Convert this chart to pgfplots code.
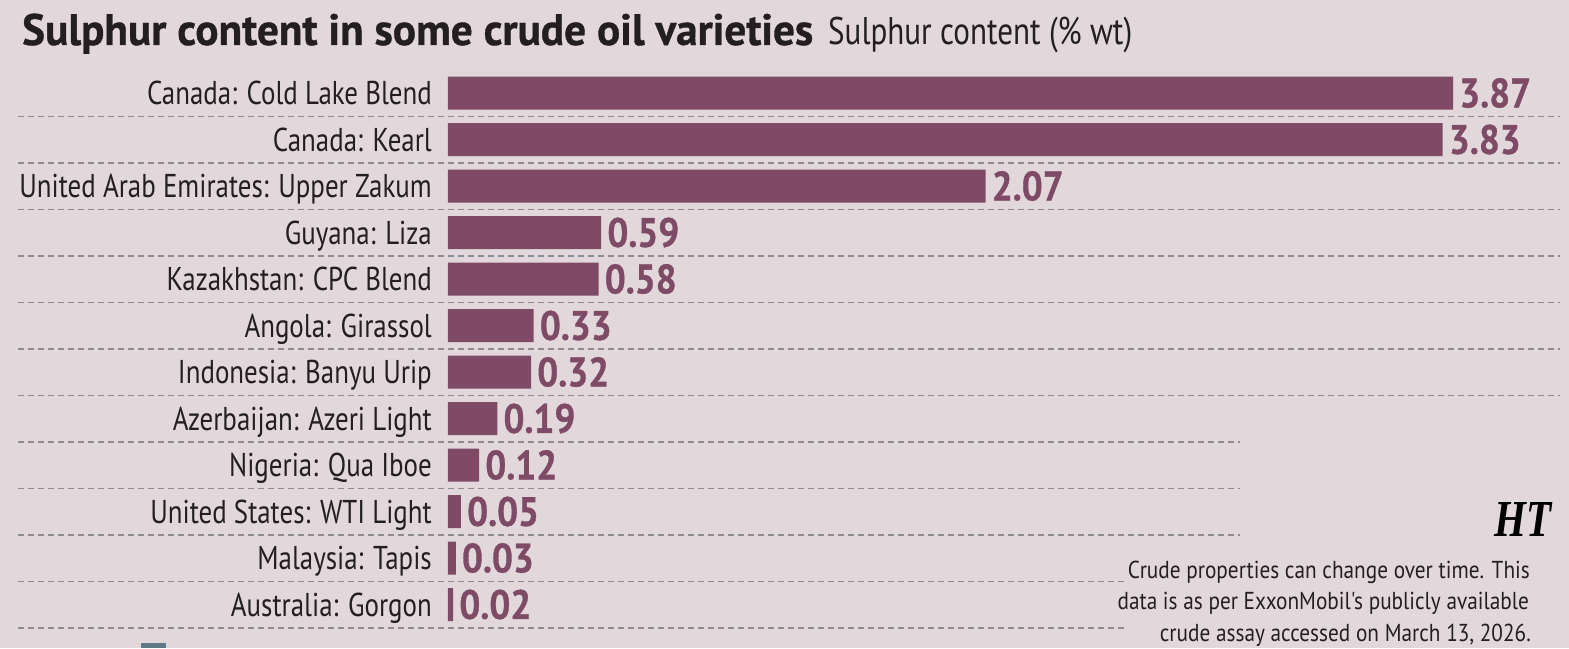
\documentclass[border=0pt]{standalone}
\usepackage{fontspec}
\usepackage{pgfplots}
\pgfplotsset{compat=1.18}
\usepackage{graphicx}
\setmainfont{PT Sans}
\newfontfamily\condreg{PT Sans}[FakeStretch=0.816]
\newfontfamily\condbold{PT Sans}[FakeStretch=0.9, BoldFeatures={FakeBold=0.8}]
\newfontfamily\titlefont{PT Sans}[BoldFeatures={FakeBold=0.8}]
\newfontfamily\notefont{PT Sans}[FakeStretch=0.868]
\newfontfamily\logofont{Liberation Serif}
\definecolor{bgc}{RGB}{226,216,219}
\definecolor{barc}{RGB}{126,74,102}
\definecolor{txtc}{RGB}{35,31,32}
\definecolor{gridc}{RGB}{140,140,146}
\definecolor{sqc}{RGB}{94,122,134}
\begin{document}
\begin{tikzpicture}[x=1pt,y=1pt]
\fill[bgc] (0,0) rectangle (1569,648);
\begin{axis}[
  at={(18pt,0pt)}, anchor=south west,
  scale only axis, width=1542pt, height=578.25pt,
  xmin=-1.6557, xmax=4.2819, ymin=-0.5, ymax=11.935,
  y dir=reverse, clip=false,
  axis line style={draw=none},
  xtick=\empty,
  ytick={0,...,11},
  yticklabels={Canada: Cold Lake Blend, Canada: Kearl, United Arab Emirates: Upper Zakum, Guyana: Liza, Kazakhstan: CPC Blend, Angola: Girassol, Indonesia: Banyu Urip, Azerbaijan: Azeri Light, Nigeria: Qua Iboe, United States: WTI Light, Malaysia: Tapis, Australia: Gorgon},
  major tick length=0pt,
  yticklabel style={font=\condreg\fontsize{33}{36}\selectfont, text=txtc, anchor=base east, inner sep=0pt, xshift=414pt, yshift=-11.5pt},
  extra y ticks={0.5,1.5,...,11.5},
  extra y tick labels={},
  extra y tick style={grid=major, major grid style={dash pattern=on 6pt off 4pt, line width=1.5pt, color=gridc}},
]
\addplot[xbar, fill=barc, draw=none, bar width=33pt,
  point meta=explicit symbolic,
  nodes near coords,
  nodes near coords style={font=\condbold\bfseries\fontsize{41}{44}\selectfont, text=barc, anchor=west, inner sep=0pt, xshift=6pt}]
coordinates {
(3.87,0) [3.87]
(3.83,1) [3.83]
(2.07,2) [2.07]
(0.59,3) [0.59]
(0.58,4) [0.58]
(0.33,5) [0.33]
(0.32,6) [0.32]
(0.19,7) [0.19]
(0.12,8) [0.12]
(0.05,9) [0.05]
(0.03,10) [0.03]
(0.02,11) [0.02]
};
\end{axis}
\fill[bgc] (1240,0) rectangle (1569,216);
\fill[bgc] (1125,0) rectangle (1569,98);
\node[anchor=base west, inner sep=0pt, text=txtc] at (22,603) {\resizebox{791pt}{\height}{\titlefont\fontsize{44}{48}\selectfont\bfseries Sulphur content in some crude oil varieties}};
\node[anchor=base west, inner sep=0pt, text=txtc] at (828,603) {\resizebox{304pt}{\height}{\fontsize{38.5}{40}\selectfont Sulphur content (\% wt)}};
\node[anchor=base east, inner sep=0pt, text=txtc, font=\notefont\fontsize{24.5}{28}\selectfont] at (1530,69) {Crude properties can change over time. This};
\node[anchor=base east, inner sep=0pt, text=txtc, font=\notefont\fontsize{24.5}{28}\selectfont] at (1529,38) {data is as per ExxonMobil's publicly available};
\node[anchor=base east, inner sep=0pt, text=txtc, font=\notefont\fontsize{24.5}{28}\selectfont] at (1531,7) {crude assay accessed on March 13, 2026.};
\node[anchor=base east, inner sep=0pt, text=black] at (1552,111) {\resizebox{57pt}{34pt}{\logofont\bfseries\itshape HT}};
\fill[sqc] (141,0) rectangle (166,5);
\end{tikzpicture}
\end{document}
